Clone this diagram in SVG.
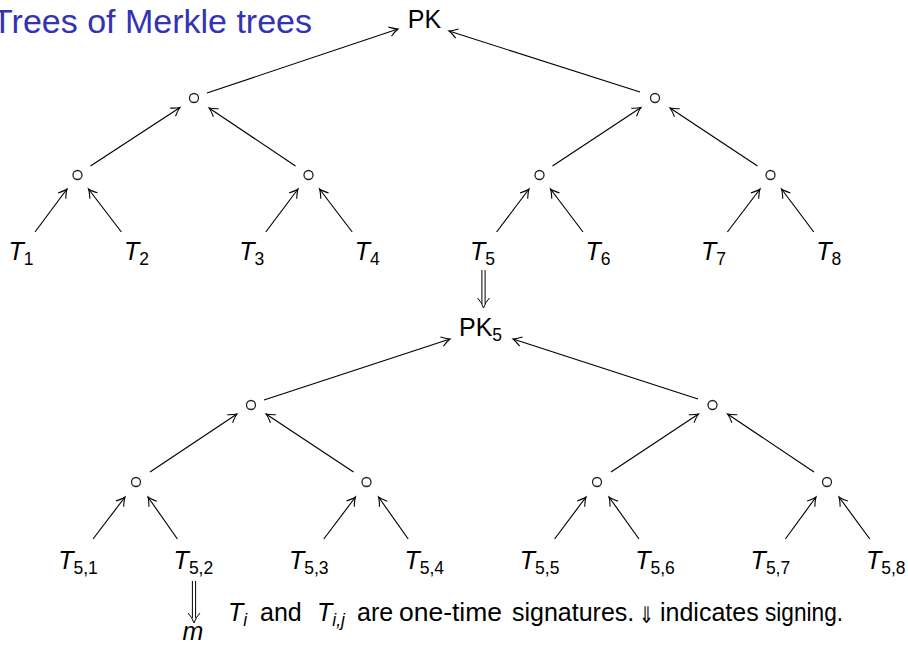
<svg xmlns="http://www.w3.org/2000/svg" width="908" height="645" viewBox="0 0 908 645">
<style>
text{font-family:"Liberation Sans","DejaVu Sans",sans-serif;fill:#000}
.lbl{font-size:25px;text-anchor:middle}
.it{font-style:italic}
.sub{font-size:17.5px;font-style:normal}
.subi{font-size:17.5px;font-style:italic}
.c{fill:none;stroke:#222;stroke-width:1.3}
.e{stroke:#000;stroke-width:1.15;fill:none;marker-end:url(#arr)}
.d{stroke:#000;stroke-width:1;fill:none}
.cap{font-size:25px}
</style>
<defs>
<marker id="arr" viewBox="-10 -6 11 12" refX="0" refY="0" markerUnits="userSpaceOnUse" markerWidth="11" markerHeight="12" orient="auto" overflow="visible">
<path d="M-8.5,-4.8 Q-3,-1 0,0 Q-3,1 -8.5,4.8" fill="none" stroke="#000" stroke-width="1.1"/>
</marker>
</defs>
<rect width="908" height="645" fill="#fff"/>
<text x="312" y="33" font-size="34" text-anchor="end" style="fill:#3333B3">Trees of Merkle trees</text>

<g id="edges">
<line class="e" x1="35" y1="232" x2="67" y2="189"/>
<line class="e" x1="121.4" y1="232" x2="88.5" y2="189"/>
<line class="e" x1="265.8" y1="232" x2="298" y2="189"/>
<line class="e" x1="352.2" y1="232" x2="319.5" y2="189"/>
<line class="e" x1="496.6" y1="232" x2="529" y2="189"/>
<line class="e" x1="583" y1="232" x2="550.5" y2="189"/>
<line class="e" x1="727.4" y1="232" x2="760" y2="189"/>
<line class="e" x1="813.8" y1="232" x2="781.5" y2="189"/>
<line class="e" x1="90.5" y1="166" x2="180" y2="107.5"/>
<line class="e" x1="295.5" y1="166" x2="209" y2="108"/>
<line class="e" x1="552.5" y1="166" x2="641" y2="107.5"/>
<line class="e" x1="757.5" y1="166" x2="670" y2="108"/>
<line class="e" x1="207" y1="93" x2="398" y2="29"/>
<line class="e" x1="640" y1="92" x2="449" y2="31"/>

<line class="e" x1="93" y1="539" x2="125" y2="497"/>
<line class="e" x1="177.4" y1="539" x2="148" y2="497"/>
<line class="e" x1="323.8" y1="539" x2="355.5" y2="497"/>
<line class="e" x1="408.2" y1="539" x2="378.5" y2="497"/>
<line class="e" x1="554.6" y1="539" x2="586" y2="497"/>
<line class="e" x1="639" y1="539" x2="609" y2="497"/>
<line class="e" x1="785.4" y1="539" x2="816" y2="497"/>
<line class="e" x1="869.8" y1="539" x2="839" y2="497"/>
<line class="e" x1="150" y1="472" x2="237" y2="414"/>
<line class="e" x1="353.5" y1="472" x2="266" y2="414"/>
<line class="e" x1="611" y1="472" x2="698.5" y2="414"/>
<line class="e" x1="814" y1="472" x2="727.5" y2="414"/>
<line class="e" x1="264" y1="400" x2="450" y2="339"/>
<line class="e" x1="698" y1="399" x2="513" y2="339"/>

<g id="sign1">
<line class="d" x1="481.9" y1="270" x2="481.9" y2="304"/>
<line class="d" x1="485.1" y1="270" x2="485.1" y2="304"/>
<path class="d" d="M477.5,298 Q481.5,302 483.5,308 Q485.5,302 489.5,298"/>
</g>
<g id="sign2">
<line class="d" x1="192.4" y1="581" x2="192.4" y2="618"/>
<line class="d" x1="195.6" y1="581" x2="195.6" y2="618"/>
<path class="d" d="M188,613 Q192,617 194,623 Q196,617 200,613"/>
</g>
</g>

<g id="PK"><text class="lbl" x="424.5" y="28">PK</text></g>
<g id="n1a"><circle class="c" cx="194" cy="98" r="4.5"/></g>
<g id="n1b"><circle class="c" cx="655" cy="98" r="4.5"/></g>
<g id="n2a"><circle class="c" cx="77.5" cy="175" r="4.5"/></g>
<g id="n2b"><circle class="c" cx="308.5" cy="175" r="4.5"/></g>
<g id="n2c"><circle class="c" cx="539.5" cy="175" r="4.5"/></g>
<g id="n2d"><circle class="c" cx="770.5" cy="175" r="4.5"/></g>
<g id="T1"><text class="lbl" x="21" y="260"><tspan class="it">T</tspan><tspan class="sub" dy="5">1</tspan></text></g>
<g id="T2"><text class="lbl" x="136.4" y="260"><tspan class="it">T</tspan><tspan class="sub" dy="5">2</tspan></text></g>
<g id="T3"><text class="lbl" x="251.8" y="260"><tspan class="it">T</tspan><tspan class="sub" dy="5">3</tspan></text></g>
<g id="T4"><text class="lbl" x="367.2" y="260"><tspan class="it">T</tspan><tspan class="sub" dy="5">4</tspan></text></g>
<g id="T5"><text class="lbl" x="482.6" y="260"><tspan class="it">T</tspan><tspan class="sub" dy="5">5</tspan></text></g>
<g id="T6"><text class="lbl" x="598" y="260"><tspan class="it">T</tspan><tspan class="sub" dy="5">6</tspan></text></g>
<g id="T7"><text class="lbl" x="713.4" y="260"><tspan class="it">T</tspan><tspan class="sub" dy="5">7</tspan></text></g>
<g id="T8"><text class="lbl" x="828.8" y="260"><tspan class="it">T</tspan><tspan class="sub" dy="5">8</tspan></text></g>

<g id="PK5"><text class="lbl" x="480.5" y="336">PK<tspan class="sub" dy="5">5</tspan></text></g>
<g id="m1a"><circle class="c" cx="251" cy="405" r="4.5"/></g>
<g id="m1b"><circle class="c" cx="712.5" cy="405" r="4.5"/></g>
<g id="m2a"><circle class="c" cx="136" cy="482" r="4.5"/></g>
<g id="m2b"><circle class="c" cx="366.5" cy="482" r="4.5"/></g>
<g id="m2c"><circle class="c" cx="597" cy="482" r="4.5"/></g>
<g id="m2d"><circle class="c" cx="827" cy="482" r="4.5"/></g>
<g id="T51"><text class="lbl" x="78" y="569"><tspan class="it">T</tspan><tspan class="sub" dy="5">5,1</tspan></text></g>
<g id="T52"><text class="lbl" x="193.4" y="569"><tspan class="it">T</tspan><tspan class="sub" dy="5">5,2</tspan></text></g>
<g id="T53"><text class="lbl" x="308.8" y="569"><tspan class="it">T</tspan><tspan class="sub" dy="5">5,3</tspan></text></g>
<g id="T54"><text class="lbl" x="424.2" y="569"><tspan class="it">T</tspan><tspan class="sub" dy="5">5,4</tspan></text></g>
<g id="T55"><text class="lbl" x="539.6" y="569"><tspan class="it">T</tspan><tspan class="sub" dy="5">5,5</tspan></text></g>
<g id="T56"><text class="lbl" x="655" y="569"><tspan class="it">T</tspan><tspan class="sub" dy="5">5,6</tspan></text></g>
<g id="T57"><text class="lbl" x="770.4" y="569"><tspan class="it">T</tspan><tspan class="sub" dy="5">5,7</tspan></text></g>
<g id="T58"><text class="lbl" x="885.8" y="569"><tspan class="it">T</tspan><tspan class="sub" dy="5">5,8</tspan></text></g>
<g id="m"><text class="lbl it" x="193" y="640">m</text></g>

<g id="caption">
<text class="cap" y="621"><tspan class="it" x="228">T</tspan><tspan class="subi" dy="5">i</tspan><tspan x="260" dy="-5">and</tspan><tspan class="it" x="317">T</tspan><tspan class="subi" dy="5">i,j</tspan><tspan x="357" dy="-5">are</tspan><tspan x="399" textLength="103" lengthAdjust="spacingAndGlyphs">one-time</tspan><tspan x="512">signatures.</tspan></text>
<text x="639" y="623" font-size="23" textLength="15" lengthAdjust="spacingAndGlyphs" style="font-family:'DejaVu Sans',sans-serif">⇓</text>
<text class="cap" y="621"><tspan x="660">indicates</tspan><tspan x="765" textLength="78" lengthAdjust="spacingAndGlyphs">signing.</tspan></text>
</g>
</svg>
